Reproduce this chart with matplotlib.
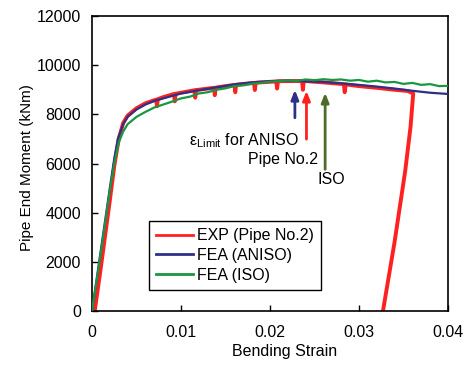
import matplotlib
matplotlib.use("Agg")
import matplotlib.pyplot as plt

plt.rcParams['font.family'] = ['Liberation Sans', 'DejaVu Sans']
plt.rcParams['mathtext.fontset'] = 'custom'
plt.rcParams['mathtext.rm'] = 'Liberation Sans'
plt.rcParams['mathtext.it'] = 'Liberation Sans:italic'

# FEA (ANISO)
aniso_strain = [0, 0.001, 0.002, 0.0025, 0.0029, 0.0035, 0.004, 0.005, 0.006, 0.007, 0.008, 0.010,
                0.012, 0.014, 0.016, 0.018, 0.020, 0.022, 0.024, 0.026, 0.028, 0.030, 0.032,
                0.034, 0.036, 0.038, 0.040]
aniso_moment = [0, 2500, 5000, 6200, 7000, 7600, 7900, 8200, 8400, 8550, 8650, 8850,
                8980, 9100, 9220, 9300, 9350, 9370, 9340, 9320, 9260, 9200, 9130,
                9050, 8960, 8880, 8830]

# FEA (ISO)
iso_strain = [0, 0.001, 0.002, 0.0025, 0.003, 0.0035, 0.004, 0.005, 0.006, 0.007, 0.008, 0.009,
              0.010, 0.011, 0.012, 0.013, 0.014, 0.015, 0.016, 0.017, 0.018, 0.019, 0.020,
              0.021, 0.022, 0.023, 0.024, 0.025, 0.026, 0.027, 0.028, 0.029, 0.030, 0.031,
              0.032, 0.033, 0.034, 0.035, 0.036, 0.037, 0.038, 0.039, 0.040]
iso_moment = [0, 2400, 4900, 6000, 6850, 7300, 7600, 7900, 8100, 8280, 8400, 8520,
              8650, 8720, 8850, 8900, 9000, 9060, 9150, 9180, 9250, 9280, 9330,
              9350, 9380, 9360, 9420, 9390, 9430, 9400, 9420, 9370, 9400, 9330,
              9370, 9300, 9320, 9240, 9280, 9200, 9230, 9150, 9160]

# EXP (Pipe No.2)
exp_strain = [0.0003, 0.001, 0.002, 0.0025, 0.003, 0.0035, 0.004, 0.005, 0.006, 0.0072, 0.0073,
              0.0074, 0.008, 0.0092, 0.0093, 0.0094, 0.0115, 0.0116, 0.0117, 0.0137, 0.0138,
              0.0139, 0.0160, 0.0161, 0.0162, 0.0182, 0.0183, 0.0184, 0.0207, 0.0208, 0.0209,
              0.0236, 0.0237, 0.0238, 0.026, 0.0283, 0.0284, 0.0285, 0.030, 0.032, 0.034,
              0.0355, 0.0361, 0.0358, 0.0352, 0.0340, 0.0327]
exp_moment = [0, 1800, 4500, 5900, 7000, 7650, 7950, 8250, 8450, 8600, 8330,
              8620, 8700, 8830, 8530, 8840, 8980, 8680, 8990, 9080, 8780,
              9090, 9200, 8900, 9210, 9280, 8990, 9290, 9340, 9050, 9350,
              9360, 9000, 9360, 9300, 9230, 8900, 9220, 9150, 9080, 9000,
              8950, 8850, 7500, 5700, 2800, 0]

fs = 11.5

fig = plt.figure(figsize=(4.72, 3.65), dpi=100)
ax = fig.add_axes([0.195, 0.148, 0.754, 0.808])

ax.plot(exp_strain, exp_moment, color='#ff2020', lw=2.8, label='EXP (Pipe No.2)', zorder=2)
ax.plot(aniso_strain, aniso_moment, color='#2e2f86', lw=1.6, label='FEA (ANISO)', zorder=3)
ax.plot(iso_strain, iso_moment, color='#1a9641', lw=1.6, label='FEA (ISO)', zorder=4)

# arrows
arrow_style = '-|>,head_length=0.55,head_width=0.22'
ax.annotate('', xy=(0.0228, 9110), xytext=(0.0228, 7750),
            arrowprops=dict(arrowstyle=arrow_style, color='#2e2f86', lw=2))
ax.annotate('', xy=(0.0241, 9070), xytext=(0.0241, 6880),
            arrowprops=dict(arrowstyle=arrow_style, color='#ff2020', lw=2))
ax.annotate('', xy=(0.0262, 8990), xytext=(0.0262, 5650),
            arrowprops=dict(arrowstyle=arrow_style, color='#4f6b2a', lw=2))

ax.text(0.0232, 6950, 'ε$_{\\mathrm{Limit}}$ for ANISO', ha='right', va='center', fontsize=fs)
ax.text(0.0254, 6160, 'Pipe No.2', ha='right', va='center', fontsize=fs)
ax.text(0.0253, 5350, 'ISO', ha='left', va='center', fontsize=fs)

ax.set_xlim(0, 0.04)
ax.set_ylim(0, 12000)
ax.set_xticks([0, 0.01, 0.02, 0.03, 0.04])
ax.set_xticklabels(['0', '0.01', '0.02', '0.03', '0.04'])
ax.set_yticks(range(0, 12001, 2000))
ax.tick_params(direction='in', labelsize=fs, length=4, width=1)
ax.tick_params(axis='x', pad=10)
ax.tick_params(axis='y', pad=8)
ax.set_xlabel('Bending Strain', fontsize=fs)
ax.set_ylabel('Pipe End Moment (kNm)', fontsize=11)
ax.xaxis.set_label_coords(0.542, -0.139, transform=ax.transAxes)
ax.yaxis.set_label_coords(-0.184, 0.485, transform=ax.transAxes)
ax.xaxis.label.set_va('center')
ax.yaxis.label.set_va('center')
for s in ax.spines.values():
    s.set_linewidth(1.2)

leg = ax.legend(loc='lower left', bbox_to_anchor=(0.16, 0.071), borderaxespad=0,
                fancybox=False, edgecolor='black', fontsize=fs, handlelength=2.3,
                handletextpad=0.25, labelspacing=0.3, framealpha=1, borderpad=0.45)
leg.get_frame().set_linewidth(1.0)
for h in leg.legend_handles:
    h.set_linewidth(2.0)

fig.savefig('out.png', dpi=100)
